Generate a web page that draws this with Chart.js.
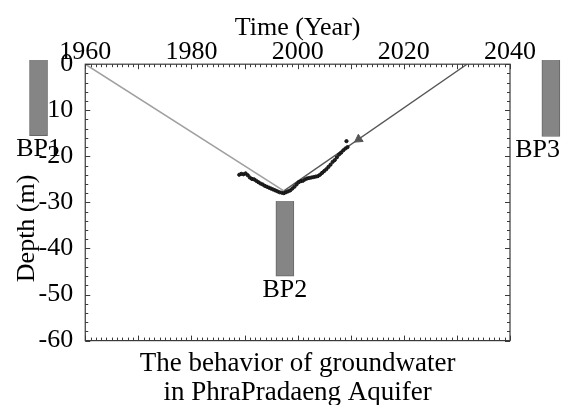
<!DOCTYPE html>
<html>
<head>
<meta charset="utf-8">
<script src="https://cdn.jsdelivr.net/npm/chart.js@4.4.0/dist/chart.umd.min.js"></script>
<style>
  html, body { margin: 0; padding: 0; background: #fff; }
  #wrap { width: 561px; height: 405px; }
</style>
</head>
<body>
<div id="wrap"><canvas id="gwChart"></canvas></div>
<script>
// Values
const xTickYears = [1960, 1980, 2000, 2020, 2040];
const yTickDepths = [-60, -50, -40, -30, -20, -10, 0];

// observed groundwater level (year, depth in m)
const obsYears = [1989.0, 1989.4, 1989.8, 1990.2, 1990.6, 1991.0, 1991.4, 1991.8, 1992.2, 1992.6,
                  1993.0, 1993.4, 1993.8, 1994.2, 1994.6, 1995.0, 1995.4, 1995.8, 1996.2, 1996.6,
                  1997.0, 1997.4, 1997.8, 1998.2, 1998.6, 1999.0, 1999.4, 1999.8, 2000.2, 2000.6,
                  2001.0, 2001.4, 2001.8, 2002.2, 2002.6, 2003.0, 2003.4, 2003.8, 2004.2, 2004.6,
                  2005.0, 2005.4, 2005.8, 2006.2, 2006.6, 2007.0, 2007.4, 2007.8, 2008.2, 2008.6,
                  2009.0, 2009.4, 2009.2];
const obsDepths = [-24.0, -23.8, -23.9, -23.7, -24.1, -24.6, -24.9, -25.0, -25.3, -25.6,
                   -25.9, -26.1, -26.4, -26.6, -26.8, -27.0, -27.2, -27.4, -27.6, -27.8,
                   -27.9, -28.0, -27.8, -27.6, -27.4, -27.0, -26.6, -26.1, -25.6, -25.4,
                   -25.3, -25.0, -24.8, -24.7, -24.6, -24.5, -24.4, -24.3, -24.0, -23.6,
                   -23.2, -22.8, -22.3, -21.8, -21.2, -20.8, -20.2, -19.6, -19.2, -18.7,
                   -18.3, -18.0, -16.7];

// decline trend (gray) and recovery trend (dark)
const declineYears = [1960, 1997.4];
const declineDepths = [0, -27.5];
const recoveryYears = [1997.4, 2031.9];
const recoveryDepths = [-27.5, 0];
const arrowYear = 2011.5;
const arrowDepth = -16.3;

// boreholes BP1..BP3 (year position, top and bottom depth)
const bpNames = ['BP1', 'BP2', 'BP3'];
const bpYears = [1951.2, 1997.6, 2047.7];
const bpTops = [0.9, -29.7, 0.9];
const bpBottoms = [-15.5, -46.0, -15.7];

const serif = 'Liberation Serif, Times New Roman, serif';

function pts(xs, ys) {
    return xs.map((x, i) => ({ x: x, y: ys[i] }));
}

// inward ticks and frame round the plot area, placed through the scales
const framePlugin = {
    id: 'frame',
    afterDraw(chart) {
        const { ctx, chartArea: a, scales } = chart;
        const xs = scales.x, ys = scales.y;
        ctx.save();
        ctx.strokeStyle = '#3a3a3a';
        ctx.lineWidth = 1;
        ctx.beginPath();
        for (let v = xs.min; v <= xs.max; v++) {
            const px = Math.round(xs.getPixelForValue(v)) + 0.5;
            const len = v % 10 === 0 ? 5 : 3;
            ctx.moveTo(px, a.top); ctx.lineTo(px, a.top + len);
            ctx.moveTo(px, a.bottom); ctx.lineTo(px, a.bottom - len);
        }
        for (let v = ys.min; v <= ys.max; v += 2) {
            const py = Math.round(ys.getPixelForValue(v)) + 0.5;
            const len = v % 10 === 0 ? 5 : 3;
            ctx.moveTo(a.left, py); ctx.lineTo(a.left + len, py);
            ctx.moveTo(a.right, py); ctx.lineTo(a.right - len, py);
        }
        ctx.stroke();
        ctx.lineWidth = 1.2;
        ctx.strokeRect(a.left, a.top, a.right - a.left, a.bottom - a.top);

        // borehole names under each bar
        ctx.font = '26px ' + serif;
        ctx.fillStyle = '#000';
        ctx.textAlign = 'center';
        ctx.textBaseline = 'top';
        bpNames.forEach((name, i) => {
            const w = ctx.measureText(name).width;
            let px = xs.getPixelForValue(bpYears[i]);
            px = Math.max(w / 2 + 2, Math.min(chart.width - w / 2 - 1, px));
            const py = ys.getPixelForValue(bpBottoms[i]) + 1;
            ctx.fillText(name, px, py);
        });
        ctx.restore();
    }
};

const ctx = document.getElementById('gwChart').getContext('2d');
const gwChart = new Chart(ctx, {
    type: 'scatter',
    data: {
        datasets: [
            {
                type: 'bar',
                data: bpYears.map((x, i) => ({ x: x, y: [bpTops[i], bpBottoms[i]] })),
                backgroundColor: '#858585',
                borderColor: '#666',
                borderWidth: 1,
                barThickness: 18,
                clip: false,
                order: 3
            },
            {
                type: 'line',
                data: pts(declineYears, declineDepths),
                borderColor: '#a0a0a0',
                borderWidth: 1.6,
                pointRadius: 0,
                order: 2
            },
            {
                type: 'line',
                data: pts(recoveryYears, recoveryDepths),
                borderColor: '#555',
                borderWidth: 1.3,
                pointRadius: 0,
                order: 2
            },
            {
                data: [{ x: arrowYear, y: arrowDepth }],
                pointStyle: 'triangle',
                rotation: 236,
                pointRadius: 5,
                backgroundColor: '#555',
                borderColor: '#555',
                order: 1
            },
            {
                data: pts(obsYears, obsDepths),
                pointRadius: 1.6,
                borderWidth: 1,
                borderColor: '#111',
                backgroundColor: '#222',
                order: 0
            }
        ]
    },
    options: {
        responsive: true,
        maintainAspectRatio: false,
        animation: false,
        layout: { padding: { top: 14, left: 3, right: 51, bottom: 0 } },
        scales: {
            x: {
                type: 'linear',
                position: 'top',
                offset: false,
                min: 1960,
                max: 2040,
                afterBuildTicks: s => { s.ticks = xTickYears.map(v => ({ value: v })); },
                ticks: {
                    color: '#000',
                    padding: -10,
                    maxRotation: 0,
                    font: { family: serif, size: 26, lineHeight: 1.1 },
                    callback: v => String(v)
                },
                grid: { display: false, offset: false },
                border: { display: false },
                title: {
                    display: true,
                    text: 'Time (Year)',
                    color: '#000',
                    padding: { top: 0, bottom: 5 },
                    font: { family: serif, size: 26, lineHeight: 1.1 }
                }
            },
            xBottom: {
                type: 'linear',
                position: 'bottom',
                offset: false,
                min: 1960,
                max: 2040,
                ticks: { display: false },
                grid: { display: false },
                border: { display: false },
                title: {
                    display: true,
                    text: ['The behavior of groundwater', 'in PhraPradaeng Aquifer'],
                    color: '#000',
                    padding: { top: 0, bottom: -3 },
                    font: { family: serif, size: 27, lineHeight: 1.1 }
                }
            },
            y: {
                type: 'linear',
                min: -60,
                max: 0,
                afterBuildTicks: s => { s.ticks = yTickDepths.map(v => ({ value: v })); },
                ticks: {
                    color: '#000',
                    padding: 4,
                    font: { family: serif, size: 26, lineHeight: 1.1 }
                },
                grid: { display: false },
                border: { display: false },
                title: {
                    display: true,
                    text: 'Depth (m)' + '\u00a0'.repeat(8),
                    color: '#000',
                    padding: { top: 16, bottom: 0 },
                    font: { family: serif, size: 26, lineHeight: 0.6 }
                }
            }
        },
        plugins: {
            legend: { display: false },
            tooltip: { enabled: false }
        }
    },
    plugins: [framePlugin]
});
</script>
</body>
</html>
